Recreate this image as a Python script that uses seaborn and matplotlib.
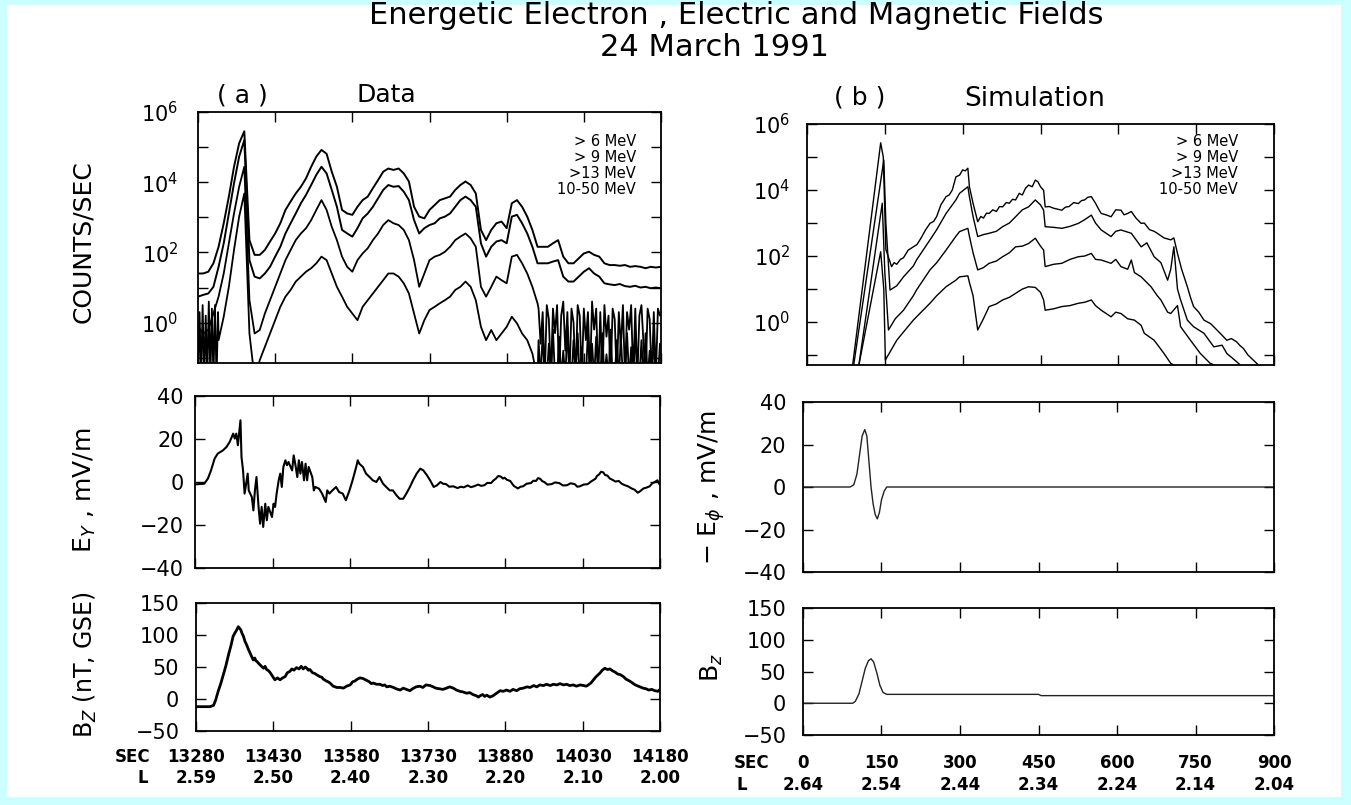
import matplotlib
matplotlib.use("Agg")
import matplotlib.pyplot as plt
import matplotlib.transforms as mtransforms
from matplotlib import font_manager
from matplotlib.patches import Rectangle
from matplotlib.ticker import NullLocator
import numpy as np
import seaborn as sns

# ---------------------------------------------------------------- axes labels
SEC_A = [13280, 13430, 13580, 13730, 13880, 14030, 14180]
L_A = ["2.59", "2.50", "2.40", "2.30", "2.20", "2.10", "2.00"]
SEC_B = [0, 150, 300, 450, 600, 750, 900]
L_B = ["2.64", "2.54", "2.44", "2.34", "2.24", "2.14", "2.04"]
CHANNELS = ["> 6 MeV", "> 9 MeV", ">13 MeV", "10-50 MeV"]

# ---------------------------------------------------------------- (a) data
# electron count rates (log10 counts/sec), one sample every 10 s from 13280 s
T_COUNTS = np.arange(13280, 14181, 10)
LOG_GT6 = [1.40, 1.40, 1.45, 1.69, 2.16, 2.83, 3.59, 4.44, 5.11, 5.45,
           2.35, 1.93, 1.93, 2.07, 2.31, 2.54, 2.83, 3.21, 3.45, 3.68,
           3.87, 4.11, 4.44, 4.73, 4.92, 4.81, 4.30, 3.87, 3.21, 3.11,
           3.07, 3.30, 3.49, 3.59, 3.83, 4.06, 4.30, 4.39, 4.35, 4.39,
           4.25, 4.02, 3.30, 3.02, 2.97, 3.21, 3.35, 3.49, 3.54, 3.59,
           3.78, 3.92, 4.02, 3.92, 3.68, 2.64, 2.35, 2.64, 2.83, 2.88,
           2.69, 3.40, 3.49, 3.30, 3.02, 2.64, 2.16, 2.16, 2.16, 2.26,
           2.35, 1.88, 1.69, 1.69, 1.83, 1.97, 2.02, 1.93, 1.88, 1.69,
           1.64, 1.64, 1.62, 1.64, 1.59, 1.61, 1.59, 1.55, 1.59, 1.57,
           1.59]
LOG_GT9 = [0.74, 0.79, 0.83, 1.02, 1.59, 2.26, 3.11, 3.97, 4.73, 5.20,
           1.78, 1.31, 1.26, 1.40, 1.59, 1.88, 2.16, 2.54, 2.83, 3.11,
           3.40, 3.64, 3.92, 4.21, 4.44, 4.25, 3.78, 3.30, 2.64, 2.54,
           2.45, 2.69, 2.97, 3.11, 3.30, 3.54, 3.78, 3.92, 3.87, 3.89,
           3.73, 3.49, 2.92, 2.54, 2.69, 2.78, 2.83, 2.97, 3.02, 3.11,
           3.30, 3.49, 3.59, 3.49, 3.30, 2.26, 1.88, 2.16, 2.31, 2.35,
           2.26, 3.02, 3.07, 2.83, 2.54, 2.16, 1.69, 1.69, 1.69, 1.74,
           1.78, 1.31, 1.17, 1.17, 1.31, 1.45, 1.55, 1.40, 1.31, 1.12,
           1.09, 1.07, 1.10, 1.04, 1.02, 1.05, 1.00, 1.02, 0.98, 1.00,
           0.98]
LOG_GT13 = [-0.12, -0.31, -0.21, 0.26, 0.74, 1.40, 2.26, 3.11, 3.87, 4.44,
            0.64, -0.31, -0.21, 0.26, 0.64, 1.02, 1.40, 1.78, 2.07, 2.35,
            2.54, 2.69, 2.92, 3.21, 3.49, 3.21, 2.73, 2.35, 1.88, 1.59,
            1.45, 1.78, 1.97, 2.12, 2.35, 2.54, 2.78, 2.92, 2.83, 2.78,
            2.64, 2.35, 1.78, 1.02, 1.40, 1.78, 1.88, 1.93, 2.02, 2.16,
            2.35, 2.45, 2.54, 2.40, 2.16, 1.02, 0.74, 1.02, 1.31, 1.21,
            1.12, 1.88, 1.93, 1.69, 1.40, 1.02, 0.55, 0.64, 0.26, 0.45,
            0.20, -0.50, 0.45, -1.60, 0.10, -0.90, 0.50, -1.60, -0.30, 0.30,
            -1.60, 0.40, -0.20, -1.60, 0.20, -0.60, 0.45, -1.60, 0.10, -1.60,
            0.20]
LOG_10_50 = [-0.88, -1.60, -0.31, -1.60, -0.50, 0.17, 1.02, 2.07, 3.02, 3.68,
             -0.31, -1.60, -1.07, -0.69, -0.31, 0.07, 0.45, 0.74, 0.93, 1.17,
             1.31, 1.45, 1.55, 1.69, 1.88, 1.78, 1.40, 1.02, 0.74, 0.45,
             0.26, 0.07, 0.45, 0.64, 0.83, 1.02, 1.21, 1.40, 1.40, 1.31,
             1.12, 0.83, 0.26, -0.31, 0.07, 0.36, 0.45, 0.55, 0.64, 0.74,
             0.93, 1.02, 1.17, 1.02, 0.64, -0.12, -0.50, -0.21, -0.50, -0.31,
             -0.12, 0.17, -0.02, -0.31, -0.50, -0.88, -1.60, -0.31, -1.60, -0.50,
             -1.60, -0.88, -1.60, -0.31, -1.60, -0.50, -1.60, -1.60, -0.21, -1.60,
             -0.88, -1.60, -0.40, -1.60, -0.88, -1.60, -0.31, -1.60, -0.69, -1.60,
             -0.88]

# low-count channels at full (4 s) resolution after 13940 s, and 10-50 MeV
# at 3 s resolution before 13320 s
T_TAIL = np.arange(13942, 14181, 4)
LOG_GT13_TAIL = [0.4, -0.6, 0.3, -1.6, 0.5, 0.1, -1.6, 0.4, -0.3, 0.5,
                 -1.6, 0.2, 0.6, -0.8, 0.3, -1.6, 0.4, 0.0, -1.6, 0.5,
                 0.2, -1.6, 0.4, -0.5, 0.3, -1.6, 0.6, -0.2, 0.4, -1.6,
                 0.3, -1.6, 0.5, -0.4, 0.2, -1.6, 0.4, 0.1, -1.6, 0.3,
                 -0.7, 0.5, -1.6, 0.3, -0.2, 0.5, -1.6, 0.4, -1.6, 0.2,
                 0.5, -0.6, -1.6, 0.4, 0.1, -1.6, 0.3, -1.6, 0.4, 0.2]
LOG_10_50_TAIL = [-0.5, -1.6, -0.3, -1.6, -1.6, -0.6, -1.6, -0.2, -1.6, -1.6,
                  -0.4, -1.6, -0.8, -1.6, -0.1, -1.6, -1.6, -0.5, -1.6, -0.3,
                  -1.6, -0.7, -1.6, -1.6, -0.2, -1.6, -0.6, -1.6, -0.4, -1.6,
                  -1.6, -0.3, -1.6, -0.9, -1.6, -0.2, -1.6, -1.6, -0.5, -1.6,
                  -0.4, -1.6, -1.6, -0.3, -1.6, -0.7, -1.6, -0.2, -1.6, -1.6,
                  -0.5, -1.6, -0.3, -1.6, -0.8, -1.6, -0.4, -1.6, -1.6, -0.6]
T_HEAD = np.arange(13280, 13320, 3)
LOG_10_50_HEAD = [-1.6, 0.3, -1.6, 0.5, -1.6, 0.2, -1.6, 0.6, -1.6, 0.4, -1.6, 0.5, -1.6, 0.3]

# electric field Ey (mV/m)
EY_T = [13280, 13298, 13305, 13311, 13318, 13324, 13334, 13341, 13347, 13354,
        13357, 13360, 13363, 13368, 13370, 13373, 13376, 13382, 13384, 13390,
        13393, 13396, 13399, 13403, 13406, 13409, 13412, 13416, 13419, 13422,
        13429, 13432, 13435, 13438, 13442, 13445, 13448, 13451, 13455, 13458,
        13461, 13468, 13471, 13474, 13478, 13481, 13484, 13487, 13491, 13494,
        13497, 13500, 13507, 13510, 13513, 13520, 13526, 13533, 13536, 13540,
        13546, 13553, 13559, 13566, 13572, 13579, 13585, 13592, 13595, 13598,
        13605, 13611, 13618, 13624, 13631, 13637, 13644, 13650, 13657, 13663,
        13670, 13676, 13683, 13689, 13696, 13702, 13709, 13716, 13722, 13729,
        13735, 13742, 13748, 13755,
        13760, 13766, 13772, 13780, 13788, 13795, 13800, 13808, 13814, 13820,
        13828, 13834, 13840, 13846, 13853, 13858, 13862, 13867, 13872, 13876,
        13879, 13884, 13890, 13897, 13905, 13910, 13915, 13922, 13930, 13935,
        13940, 13944, 13948, 13952, 13956, 13962, 13970, 13977, 13985, 13992,
        14000, 14007, 14015, 14020, 14025, 14032, 14040, 14047, 14055, 14058,
        14062, 14066, 14070, 14074, 14078, 14083, 14088, 14094, 14100, 14106,
        14112, 14118, 14125, 14131, 14137, 14142, 14148, 14154, 14160, 14165,
        14170, 14175, 14180]
EY_V = [-1.1, -0.8, 1.6, 5.4, 10.9, 13.2, 14.7, 16.3, 18.6, 22.5,
        20.2, 22.5, 17.1, 28.7, 11.6, 5.4, -5.4, 3.9, -3.9, -7.0,
        -13.2, -3.9, 2.3, -11.6, -19.4, -11.6, -20.9, -10.1, -17.8, -11.6,
        -16.3, -10.1, -11.6, -5.4, 0.8, 3.9, -2.3, 7.0, 10.1, 7.8,
        9.3, 5.4, 12.4, 8.5, 2.3, 10.1, 3.9, 9.3, 0.8, 8.5,
        0.8, 7.0, 2.3, -3.9, -2.3, -3.1, -5.4, -9.3, -3.9, -5.4,
        -3.9, -2.3, -4.7, -5.4, -8.5, -3.9, 0.8, 7.0, 10.1, 8.5,
        7.0, 3.9, 2.3, 0.8, 0.0, 2.3, -0.8, -2.3, -3.9, -3.9,
        -6.2, -7.8, -7.8, -5.4, -2.3, 0.8, 3.9, 6.2, 5.4, 3.1,
        0.8, -2.3, -1.6, 0.0,
        -0.8, -1.0, -2.2, -2.0, -2.8, -2.2, -2.5, -1.6, -2.4, -2.0,
        -1.2, -1.8, -1.5, -0.4, -0.5, 0.8, 1.5, 2.8, 2.5, 1.6,
        2.0, 1.0, 0.5, -1.8, -3.0, -2.2, -2.0, -0.8, -0.5, 0.6,
        0.5, 1.8, 1.5, 0.4, 0.0, -1.2, -1.0, -0.2, -0.5, -1.6,
        -1.5, -0.6, -1.0, -2.2, -2.0, -1.2, -1.0, 0.3, 1.5, 2.8,
        3.5, 4.8, 4.5, 3.2, 3.0, 1.6, 1.0, 0.2, 0.5, -0.8,
        -1.5, -2.0, -3.0, -3.6, -5.0, -4.2, -3.0, -2.6, -2.0, -0.6,
        0.0, 0.8, -1.5]

# magnetic field Bz (nT, GSE)
BZ_T = [13280, 13295, 13307, 13314, 13318, 13323, 13328, 13333, 13338, 13343,
        13348, 13352, 13356, 13359, 13362, 13364, 13367, 13369, 13372, 13375,
        13378, 13382, 13386, 13391, 13394, 13396, 13399, 13401, 13406, 13411,
        13414, 13417, 13421, 13424, 13428, 13433, 13438, 13443, 13448, 13453,
        13457, 13462, 13466, 13470, 13475, 13480, 13484, 13488, 13492, 13495,
        13498, 13501, 13506, 13510, 13514, 13520, 13524, 13527, 13533, 13536,
        13540, 13546, 13550, 13553, 13560, 13566, 13572, 13579, 13584, 13588,
        13593, 13598, 13604, 13611, 13616, 13620, 13624, 13630, 13637, 13642,
        13646, 13650, 13656, 13663, 13668, 13672, 13676, 13682, 13688, 13695,
        13700, 13707, 13714, 13720, 13726, 13734, 13740, 13745, 13752, 13759,
        13766, 13772, 13779, 13785, 13792, 13798, 13805, 13811, 13817, 13824,
        13828, 13831, 13836, 13840, 13844, 13850, 13856, 13863, 13870, 13876,
        13882, 13889, 13895, 13902, 13908, 13915, 13922, 13928, 13935, 13941,
        13947, 13954, 13960, 13967, 13973, 13980, 13986, 13993, 13999, 14005,
        14012, 14018, 14025, 14032, 14037, 14041, 14046, 14050, 14055, 14060,
        14064, 14068, 14073, 14078, 14083, 14088, 14093, 14098, 14103, 14109,
        14114, 14119, 14125, 14130, 14135, 14141, 14147, 14153, 14158, 14164,
        14170, 14176, 14180]
BZ_V = [-12, -12, -12, -10, -2, 12, 24, 38, 52, 69,
        84, 98, 104, 108, 113, 111, 108, 103, 98, 90,
        85, 77, 70, 61, 64, 60, 58, 56, 52, 48,
        51, 46, 44, 41, 36, 30, 33, 30, 33, 35,
        41, 43, 47, 45, 49, 47, 51, 47, 50, 48,
        45, 46, 41, 40, 38, 35, 34, 31, 28, 27,
        25, 20, 19, 18, 18, 17, 20, 22, 27, 28,
        31, 33, 32, 29, 27, 24, 25, 23, 23, 21,
        22, 19, 20, 18, 16, 15, 14, 17, 15, 13,
        16, 19, 20, 18, 22, 21, 19, 17, 16, 15,
        17, 19, 17, 14, 12, 11, 9, 10, 7, 5,
        3, 5, 7, 4, 6, 3, 5, 9, 13, 12,
        14, 12, 15, 13, 16, 17, 19, 18, 21, 19,
        22, 21, 23, 21, 23, 22, 24, 22, 23, 21,
        22, 20, 22, 21, 20, 22, 25, 29, 34, 38,
        41, 45, 48, 46, 47, 44, 42, 39, 38, 35,
        31, 29, 26, 23, 21, 19, 17, 16, 14, 15,
        13, 12, 15]

# ---------------------------------------------------------------- (b) simulation
SIM_T_6 = [88, 142, 147, 152, 163, 168, 173, 180, 186, 195,
           205, 212, 220, 228, 237, 244, 250, 258, 268, 274,
           280, 287, 294, 300, 305, 310, 313, 320, 329, 335,
           340, 346, 351, 358, 365, 371, 377, 384, 390, 396,
           402, 409, 415, 421, 427, 434, 440, 445, 450, 456,
           459, 467, 475, 483, 491, 498, 505, 514, 523, 529,
           535, 541, 548, 556, 561, 567, 576, 586, 595, 605,
           611, 618, 625, 634, 644, 650, 660, 669, 675, 688,
           701, 707, 714, 722, 733, 739, 745, 755, 765, 778,
           790, 800, 809, 818, 828, 835, 841, 850, 860, 870]
SIM_LOG_6 = [-1.3, 5.43, 5.0, 2.2, 1.68, 1.80, 1.75, 1.90, 1.95, 2.18,
             2.28, 2.35, 2.55, 2.78, 2.99, 3.05, 3.2, 3.55, 3.80, 3.85,
             4.0, 4.40, 4.45, 4.61, 4.58, 4.66, 4.1, 3.6, 3.04, 3.20,
             3.15, 3.30, 3.29, 3.40, 3.35, 3.50, 3.49, 3.62, 3.6, 3.72,
             3.70, 3.90, 3.85, 4.05, 4.15, 4.10, 4.30, 4.25, 4.1, 3.99,
             3.49, 3.50, 3.45, 3.42, 3.39, 3.48, 3.5, 3.62, 3.59, 3.68,
             3.7, 3.78, 3.80, 3.6, 3.45, 3.29, 3.25, 3.19, 3.40, 3.39,
             3.25, 3.29, 3.35, 3.15, 2.99, 3.0, 2.80, 2.75, 2.69, 2.55,
             2.49, 2.55, 2.08, 1.60, 1.07, 0.75, 0.47, 0.30, 0.06, -0.05,
             -0.24, -0.40, -0.55, -0.50, -0.6, -0.72, -0.80, -1.00, -1.15, -1.3]
SIM_T_9 = [90, 148, 152, 160, 173, 186, 205, 211, 237, 250, 268, 287, 294, 310, 313,
           320, 329, 340, 351, 365, 377, 390, 402, 415, 427, 440, 450, 456, 459, 475,
           491, 507, 523, 535, 548, 556, 567, 586, 595, 605, 625, 644, 655, 669, 682,
           695, 701, 707, 714, 720, 733, 745, 765, 784, 800, 809, 828, 835]
SIM_LOG_9 = [-1.3, 4.91, 3.0, 0.97, 1.1, 1.37, 1.7, 1.88, 2.49, 2.8, 3.29, 3.7, 3.90, 4.10, 3.80,
             3.2, 2.59, 2.65, 2.69, 2.75, 2.89, 3.0, 3.19, 3.4, 3.49, 3.70, 3.55, 3.39, 2.89, 2.87,
             2.84, 2.9, 2.99, 3.1, 3.24, 3.0, 2.79, 2.59, 2.75, 2.79, 2.69, 2.28, 2.4, 1.98, 1.8,
             1.27, 1.6, 2.28, 1.0, 0.67, 0.06, -0.14, -0.34, -0.75, -0.7, -0.95, -1.20, -1.3]
SIM_T_13 = [100, 145, 150, 157, 170, 186, 205, 211, 237, 250, 268, 287, 294, 310, 313,
            320, 329, 340, 351, 365, 377, 390, 402, 415, 427, 440, 450, 456, 459, 475,
            491, 507, 523, 535, 548, 556, 567, 586, 595, 605, 618, 625, 631, 644, 663,
            675, 682, 695, 701, 714, 720, 739, 758, 777, 785]
SIM_LOG_13 = [-1.3, 3.6, 1.5, -0.24, 0.1, 0.36, 0.8, 0.97, 1.58, 1.8, 2.18, 2.6, 2.74, 2.84, 2.6,
              2.1, 1.58, 1.65, 1.78, 1.85, 1.98, 2.1, 2.28, 2.3, 2.38, 2.54, 2.3, 2.18, 1.68, 1.75,
              1.78, 1.9, 1.98, 2.0, 2.08, 1.9, 1.88, 1.78, 1.9, 1.68, 1.6, 1.88, 1.5, 1.37, 1.07,
              0.8, 0.67, 0.3, 0.26, 0.5, -0.14, -0.55, -0.95, -1.25, -1.3]
SIM_T_10_50 = [100, 142, 148, 151, 173, 186, 205, 220, 237, 250, 268, 287, 294, 310, 313,
               320, 329, 340, 351, 365, 377, 390, 402, 415, 427, 440, 450, 456, 459, 475,
               491, 507, 523, 535, 548, 556, 567, 586, 595, 605, 618, 631, 644, 650, 669,
               688, 701, 707]
SIM_LOG_10_50 = [-1.3, 2.13, 1.0, -1.15, -0.55, -0.3, 0.06, 0.3, 0.57, 0.8, 1.07, 1.27, 1.37, 1.40, 1.2,
                 0.8, -0.24, 0.1, 0.47, 0.55, 0.67, 0.75, 0.87, 1.0, 1.07, 1.05, 0.9, 0.67, 0.36, 0.4,
                 0.47, 0.5, 0.57, 0.6, 0.67, 0.5, 0.36, 0.16, 0.3, 0.26, 0.1, 0.06, -0.1, -0.34, -0.55,
                 -0.95, -1.25, -1.3]

SIM_EY_T = [0, 90, 97, 103, 108, 113, 118, 122, 126, 130, 134, 138, 142, 146, 150, 155, 160, 900]
SIM_EY_V = [0, 0, 1, 6, 15, 24, 27, 24, 12, 0, -8, -13, -15, -12, -6, -2, 0, 0]
SIM_BZ_T = [0, 95, 100, 107, 113, 119, 125, 130, 135, 141, 147, 153, 160, 450, 455, 900]
SIM_BZ_V = [0, 0, 3, 15, 35, 55, 67, 70, 65, 48, 28, 17, 14, 14, 12, 12]

# ---------------------------------------------------------------- style
sns.set_theme(style="white")
plt.rcParams["font.family"] = ["DejaVu Sans"]
plt.rcParams["mathtext.fontset"] = "dejavusans"
plt.rcParams["text.color"] = "black"
plt.rcParams["axes.labelcolor"] = "black"
plt.rcParams["xtick.color"] = "black"
plt.rcParams["ytick.color"] = "black"

_names = {f.name for f in font_manager.fontManager.ttflist}
if "Liberation Sans Narrow" in _names:
    LABEL_FAMILY, LABEL_SIZE = ["Liberation Sans Narrow", "DejaVu Sans"], 22
else:
    LABEL_FAMILY, LABEL_SIZE = ["DejaVu Sans"], 18

W, H = 1351, 805
fig = plt.figure(figsize=(W / 100, H / 100), dpi=100, facecolor="#ccffff")
fig.patches.append(Rectangle((7 / W, 8 / H), (W - 17) / W, (H - 13) / H,
                             transform=fig.transFigure, facecolor="white",
                             edgecolor="none", zorder=-10))


def axes_px(x0, y0, x1, y1):
    ax = fig.add_axes([x0 / W, 1 - y1 / H, (x1 - x0) / W, (y1 - y0) / H])
    ax.set_zorder(2)
    return ax


def ftext(x, y, s, **kw):
    kw.setdefault("ha", "center")
    kw.setdefault("va", "center")
    kw.setdefault("color", "black")
    return fig.text(x / W, 1 - y / H, s, **kw)


def frame(ax, pad):
    ax.set_facecolor("none")
    for sp in ax.spines.values():
        sp.set_visible(True)
        sp.set_color("black")
        sp.set_linewidth(1.3)
    ax.tick_params(which="major", direction="in", top=True, right=True,
                   bottom=True, left=True, length=7, width=1.0,
                   colors="black", labelsize=15, pad=pad)
    ax.tick_params(axis="x", labelbottom=False)
    ax.xaxis.set_minor_locator(NullLocator())
    ax.yaxis.set_minor_locator(NullLocator())
    ax.set_xlabel("")
    ax.set_ylabel("")


def counts_axis(ax, low):
    ax.set_yscale("log")
    ax.set_ylim(10.0 ** low, 1e6)
    ax.yaxis.set_minor_locator(NullLocator())
    ax.set_yticks([10.0 ** k for k in range(-1, 7)])
    ax.set_yticklabels([r"$10^{%d}$" % k if k % 2 == 0 else "" for k in range(-1, 7)],
                       fontsize=15)


def line(ax, x, y, lw, color="black"):
    sns.lineplot(x=np.asarray(x, float), y=np.asarray(y, float), ax=ax, color=color,
                 linewidth=lw, estimator=None, sort=False, legend=False)


# ---------------------------------------------------------------- (a) panels
ax_ca = axes_px(198, 112, 661, 363)
n_main = int(np.searchsorted(T_COUNTS, 13940)) + 1       # coarse samples up to 13940 s
n_head = int(np.searchsorted(T_COUNTS, 13320))           # coarse samples before 13320 s
line(ax_ca, T_COUNTS, 10.0 ** np.asarray(LOG_GT6), 1.4)
line(ax_ca, T_COUNTS, 10.0 ** np.asarray(LOG_GT9), 1.4)
line(ax_ca, np.r_[T_COUNTS[:n_main], T_TAIL],
     10.0 ** np.r_[LOG_GT13[:n_main], LOG_GT13_TAIL], 1.3)
line(ax_ca, np.r_[T_HEAD, T_COUNTS[n_head:n_main], T_TAIL],
     10.0 ** np.r_[LOG_10_50_HEAD, LOG_10_50[n_head:n_main], LOG_10_50_TAIL], 1.3)
ax_ca.set_xlim(13280, 14180)
frame(ax_ca, pad=14)
counts_axis(ax_ca, -1.15)
ax_ca.set_xticks(SEC_A)

ax_ea = axes_px(195, 396, 660, 568)
line(ax_ea, EY_T, EY_V, 1.5)
ax_ea.set_xlim(13280, 14180)
ax_ea.set_ylim(-40, 40)
frame(ax_ea, pad=8)
ax_ea.set_yticks([-40, -20, 0, 20, 40])
ax_ea.set_xticks(SEC_A)

ax_ba = axes_px(196, 603, 660, 731)
line(ax_ba, BZ_T, BZ_V, 2.0)
ax_ba.set_xlim(13280, 14180)
ax_ba.set_ylim(-50, 150)
frame(ax_ba, pad=12)
ax_ba.set_yticks([-50, 0, 50, 100, 150])
ax_ba.set_xticks(SEC_A)

# ---------------------------------------------------------------- (b) panels
ax_cb = axes_px(807, 124, 1274, 365)
for tt, lv in ((SIM_T_6, SIM_LOG_6), (SIM_T_9, SIM_LOG_9),
               (SIM_T_13, SIM_LOG_13), (SIM_T_10_50, SIM_LOG_10_50)):
    line(ax_cb, tt, 10.0 ** np.asarray(lv), 1.0)
ax_cb.set_xlim(0, 900)
frame(ax_cb, pad=12)
counts_axis(ax_cb, -1.3)
ax_cb.set_xticks(SEC_B)

ax_eb = axes_px(803, 402, 1274, 572)
line(ax_eb, SIM_EY_T, SIM_EY_V, 1.0, color="#222222")
ax_eb.set_xlim(0, 900)
ax_eb.set_ylim(-40, 40)
frame(ax_eb, pad=12)
ax_eb.set_yticks([-40, -20, 0, 20, 40])
ax_eb.set_xticks(SEC_B)

ax_bb = axes_px(803, 608, 1274, 735)
line(ax_bb, SIM_BZ_T, SIM_BZ_V, 1.0, color="#222222")
ax_bb.set_xlim(0, 900)
ax_bb.set_ylim(-50, 150)
frame(ax_bb, pad=12)
ax_bb.set_yticks([-50, 0, 50, 100, 150])
ax_bb.set_xticks(SEC_B)

# ---------------------------------------------------------------- time / L-shell rows
for ax, secs, ls, y1, y2 in ((ax_ba, SEC_A, L_A, 757, 778),
                            (ax_bb, SEC_B, L_B, 763, 785)):
    tr = mtransforms.blended_transform_factory(ax.transData, fig.transFigure)
    for s, lval in zip(secs, ls):
        ax.text(s, 1 - y1 / H, str(s), transform=tr, ha="center", va="center",
                fontsize=12, fontweight="bold", color="black", clip_on=False)
        ax.text(s, 1 - y2 / H, lval, transform=tr, ha="center", va="center",
                fontsize=12, fontweight="bold", color="black", clip_on=False)
ftext(133, 757, "SEC", fontsize=12, fontweight="bold")
ftext(143, 778, "L", fontsize=12, fontweight="bold")
ftext(752, 763, "SEC", fontsize=12, fontweight="bold")
ftext(742, 785, "L", fontsize=12, fontweight="bold")

# ---------------------------------------------------------------- channel keys
for right, rows in ((636, (141, 157, 173, 189)), (1238, (141, 157, 173, 189))):
    for name, yy in zip(CHANNELS, rows):
        ftext(right, yy, name, ha="right", fontsize=10.5)

# ---------------------------------------------------------------- titles and labels
ftext(736, 16, "Energetic Electron , Electric and Magnetic Fields", fontsize=22)
ftext(715, 47, "24 March 1991", fontsize=22)
ftext(242, 96, "( a )", fontsize=18)
ftext(386, 95, "Data", fontsize=18)
ftext(860, 98, "( b )", fontsize=18)
ftext(1035, 99, "Simulation", fontsize=19)

ftext(83, 242, "COUNTS/SEC", rotation=90, family=LABEL_FAMILY, fontsize=LABEL_SIZE)
ftext(85, 490, r"E$_Y$ , mV/m", rotation=90, family=LABEL_FAMILY, fontsize=LABEL_SIZE)
ftext(85, 665, r"B$_Z$ (nT, GSE)", rotation=90, family=LABEL_FAMILY, fontsize=LABEL_SIZE - 1)
ftext(712, 487, r"$-$ E$_\phi$ , mV/m", rotation=90, family=LABEL_FAMILY, fontsize=LABEL_SIZE)
ftext(712, 668, r"B$_z$", rotation=90, family=LABEL_FAMILY, fontsize=LABEL_SIZE)

fig.savefig("out.png", dpi=100, facecolor=fig.get_facecolor())
